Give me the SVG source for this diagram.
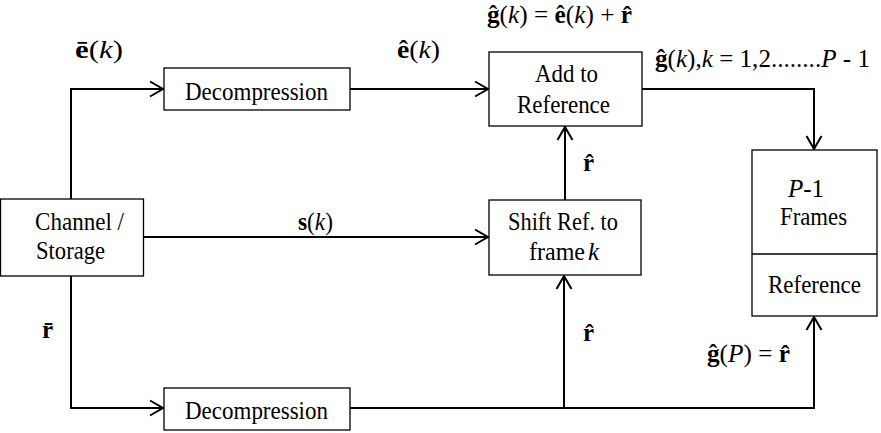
<svg xmlns="http://www.w3.org/2000/svg" width="881" height="433" viewBox="0 0 881 433">
<style>
.box{fill:#fff;stroke:#000;stroke-width:1.3}
.t{font-family:"Liberation Serif","Times New Roman","DejaVu Serif",serif;font-size:25px;fill:#000}
.m{font-family:"Liberation Serif","Times New Roman","DejaVu Serif",serif;font-size:25px;fill:#000}
.b{font-weight:bold}
.i{font-style:italic}
.c{fill:none;stroke:#000;stroke-width:2}
</style>
<defs>
<marker id="arr" markerUnits="userSpaceOnUse" markerWidth="16" markerHeight="18" viewBox="0 0 16 18" refX="14" refY="9" orient="auto">
<path d="M1,1.5 L14,9 L1,16.5" fill="none" stroke="#000" stroke-width="2"/>
</marker>
</defs>
<rect width="881" height="433" fill="#fff"/>
<g id="connectors">
<path class="c" d="M71,199 V89 H163" marker-end="url(#arr)"/>
<path class="c" d="M350,89 H488" marker-end="url(#arr)"/>
<path class="c" d="M642,89 H814 V149" marker-end="url(#arr)"/>
<path class="c" d="M143,237 H488" marker-end="url(#arr)"/>
<path class="c" d="M565,200 V127" marker-end="url(#arr)"/>
<path class="c" d="M71,276 V408 H163" marker-end="url(#arr)"/>
<path class="c" d="M350,408 H814 V317" marker-end="url(#arr)"/>
<path class="c" d="M564,407 V276" marker-end="url(#arr)"/>
</g>
<g id="channel">
<rect class="box" x="0.5" y="199" width="143" height="77"/>
<text class="t" x="35" y="230" textLength="89" lengthAdjust="spacingAndGlyphs">Channel /</text>
<text class="t" x="36" y="259" textLength="69" lengthAdjust="spacingAndGlyphs">Storage</text>
</g>
<g id="decomp-top">
<rect class="box" x="164" y="68" width="186" height="42"/>
<text class="t" x="185" y="100" textLength="143" lengthAdjust="spacingAndGlyphs">Decompression</text>
</g>
<g id="decomp-bottom">
<rect class="box" x="164" y="388" width="186" height="42"/>
<text class="t" x="185" y="419" textLength="143" lengthAdjust="spacingAndGlyphs">Decompression</text>
</g>
<g id="add-ref">
<rect class="box" x="489" y="52" width="153" height="74"/>
<text class="t" x="535" y="82" textLength="63" lengthAdjust="spacingAndGlyphs">Add to</text>
<text class="t" x="517" y="113" textLength="93" lengthAdjust="spacingAndGlyphs">Reference</text>
</g>
<g id="shift-ref">
<rect class="box" x="489" y="200" width="152" height="75"/>
<text class="t" x="508" y="230" textLength="110" lengthAdjust="spacingAndGlyphs">Shift Ref. to</text>
<text class="t" x="529" y="260" textLength="56" lengthAdjust="spacingAndGlyphs">frame</text>
<text class="t i" x="588" y="260">k</text>
</g>
<g id="frames">
<rect class="box" x="752" y="150" width="125" height="166"/>
<line x1="752" y1="254" x2="877" y2="254" stroke="#000" stroke-width="1.3"/>
<text class="t" x="788" y="197"><tspan class="i">P</tspan>-1</text>
<text class="t" x="780" y="225" textLength="67" lengthAdjust="spacingAndGlyphs">Frames</text>
<text class="t" x="768" y="293" textLength="93" lengthAdjust="spacingAndGlyphs">Reference</text>
</g>
<g id="labels">
<text class="m" x="75" y="58" textLength="48" lengthAdjust="spacingAndGlyphs"><tspan class="b">ē</tspan>(<tspan class="i">k</tspan>)</text>
<text class="m" x="397" y="58" textLength="43" lengthAdjust="spacingAndGlyphs"><tspan class="b">ê</tspan>(<tspan class="i">k</tspan>)</text>
<text class="m" x="487" y="23" textLength="145" lengthAdjust="spacingAndGlyphs"><tspan class="b">ĝ</tspan>(<tspan class="i">k</tspan>) = <tspan class="b">ê</tspan>(<tspan class="i">k</tspan>) + <tspan class="b">r̂</tspan></text>
<text class="m" x="655" y="67" textLength="215" lengthAdjust="spacingAndGlyphs"><tspan class="b">ĝ</tspan>(<tspan class="i">k</tspan>),<tspan class="i">k</tspan> = 1,2........<tspan class="i">P</tspan> - 1</text>
<text class="m" x="298" y="230" textLength="35" lengthAdjust="spacingAndGlyphs"><tspan class="b">s</tspan>(<tspan class="i">k</tspan>)</text>
<text class="m b" x="583" y="171">r̂</text>
<text class="m b" x="583" y="341">r̂</text>
<text class="m b" x="42" y="338">r̄</text>
<text class="m" x="707" y="362" textLength="83" lengthAdjust="spacingAndGlyphs"><tspan class="b">ĝ</tspan>(<tspan class="i">P</tspan>) = <tspan class="b">r̂</tspan></text>
</g>
</svg>
